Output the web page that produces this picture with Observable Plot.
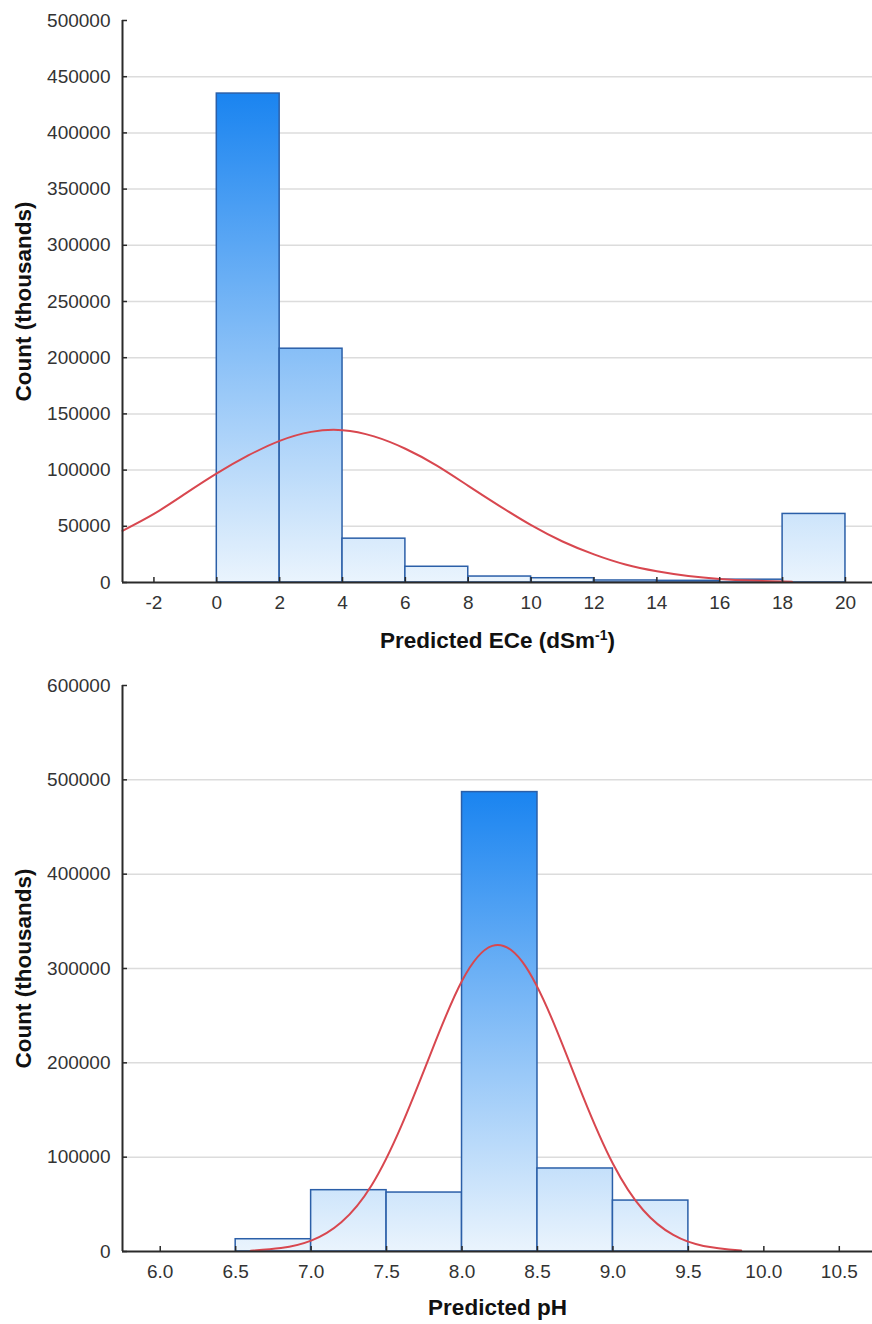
<!DOCTYPE html>
<html><head><meta charset="utf-8">
<script src="https://cdn.jsdelivr.net/npm/d3@7"></script>
<script src="https://cdn.jsdelivr.net/npm/@observablehq/plot@0.6"></script>
<style>
body{margin:0;background:#fff;overflow:hidden}
#wrap{width:872px}
svg{display:block}
</style></head><body><div id="wrap"></div>
<script>
// ---- Top panel: Predicted ECe ----
const eceBinStart = [0, 2, 4, 6, 8, 10, 12, 14, 16, 18];
const eceBinEnd   = [2, 4, 6, 8, 10, 12, 14, 16, 18, 20];
const eceCounts   = [435000, 208000, 39000, 14000, 5300, 3800, 1800, 1500, 2500, 61000];
const eceCurveX   = [-3, -2, -1, 0, 1, 2, 3, 4, 5, 6, 7, 8, 9, 10, 11, 12, 13, 14, 15, 16, 17, 18, 18.3];
const eceCurveY   = [46000, 61000, 79000, 97000, 113000, 126000, 134000, 135500, 130000, 119000, 104000, 86000, 68000, 51000, 36500, 25000, 16000, 10000, 5800, 3200, 1700, 900, 700];
const eceXTicks   = [-2, 0, 2, 4, 6, 8, 10, 12, 14, 16, 18, 20];
const eceYTicks   = [0, 50000, 100000, 150000, 200000, 250000, 300000, 350000, 400000, 450000, 500000];
const eceXLabel   = "Predicted ECe (dSm-1)";

// ---- Bottom panel: Predicted pH ----
const phBinStart = [6.5, 7.0, 7.5, 8.0, 8.5, 9.0];
const phBinEnd   = [7.0, 7.5, 8.0, 8.5, 9.0, 9.5];
const phCounts   = [13000, 65000, 62500, 487000, 88000, 54000];
const phCurveX   = [6.6, 6.8, 7.0, 7.2, 7.4, 7.6, 7.8, 8.0, 8.2, 8.4, 8.6, 8.8, 9.0, 9.2, 9.4, 9.6, 9.85];
const phCurveY   = [900, 3600, 11500, 31000, 70000, 134000, 213000, 287000, 324000, 307000, 245000, 165000, 93000, 44000, 17500, 5900, 1000];
const phXTicks   = [6.0, 6.5, 7.0, 7.5, 8.0, 8.5, 9.0, 9.5, 10.0, 10.5];
const phYTicks   = [0, 100000, 200000, 300000, 400000, 500000, 600000];
const phXLabel   = "Predicted pH";

const yLabel = "Count (thousands)";

function histogram(o) {
  const bins = o.starts.map((s, i) => ({x1: s, x2: o.ends[i], count: o.counts[i]}));
  const curve = o.cx.map((x, i) => ({x, y: o.cy[i]}));
  const grid = o.yTicks.slice(1, -1);
  const chart = Plot.plot({
    width: 872, height: o.height,
    marginLeft: 122, marginRight: 0, marginTop: o.marginTop, marginBottom: o.marginBottom,
    style: {fontFamily: "'Liberation Sans', Arial, sans-serif", fontSize: "19px", color: "#333", background: "#fff", overflow: "visible"},
    x: {domain: o.xDomain, label: null},
    y: {domain: o.yDomain, label: null},
    marks: [
      Plot.gridY(grid, {stroke: "#dcdcdc", strokeOpacity: 1, strokeWidth: 1.5}),
      Plot.rectY(bins, {x1: "x1", x2: "x2", y: "count", fill: `url(#${o.gradId})`, stroke: "#2b5fa8", strokeWidth: 1.5}),
      Plot.line(curve, {x: "x", y: "y", stroke: "#d8474f", strokeWidth: 2, curve: "natural"}),
      Plot.ruleX([o.xDomain[0]], {stroke: "#2a2a2a", strokeWidth: 2}),
      Plot.ruleY([0], {stroke: "#2a2a2a", strokeWidth: 2}),
      Plot.axisY(o.yTicks, {tickSize: 0, tickPadding: 12, tickFormat: d => String(d), fill: "#333", stroke: "#333", strokeWidth: 0.35, fontSize: 19}),
      Plot.axisY(o.yTicks, {tickSize: 5, dx: 5, text: null, stroke: "#2a2a2a", strokeWidth: 1.5}),
      Plot.axisX(o.xTicks, {tickSize: 0, tickPadding: 13, tickFormat: o.xFormat, fill: "#333", stroke: "#333", strokeWidth: 0.35, fontSize: 19}),
      Plot.axisX(o.xTicks, {tickSize: 5, dy: -5, text: null, stroke: "#2a2a2a", strokeWidth: 1.5}),
      Plot.text([o.xLabel], {frameAnchor: "bottom", dy: o.labelDy, textAnchor: "middle", lineAnchor: "middle", fontWeight: "bold", fontSize: 22.5, fill: "#111"}),
      Plot.text([yLabel], {frameAnchor: "left", dx: -99, rotate: -90, textAnchor: "middle", lineAnchor: "middle", fontWeight: "bold", fontSize: 22.5, fill: "#111"})
    ]
  });
  const ys = chart.scale("y");
  const svg = d3.select(chart);
  const defs = svg.insert("defs", ":first-child");
  const g = defs.append("linearGradient").attr("id", o.gradId)
    .attr("gradientUnits", "userSpaceOnUse")
    .attr("x1", 0).attr("x2", 0)
    .attr("y1", ys.apply(d3.max(o.counts))).attr("y2", ys.apply(0));
  g.append("stop").attr("offset", 0).attr("stop-color", "#1a84f0");
  g.append("stop").attr("offset", 1).attr("stop-color", "#eaf4fd");
  // superscript handling
  svg.selectAll("text").each(function() {
    const t = d3.select(this);
    if (t.text() === "Predicted ECe (dSm-1)") {
      t.text("");
      t.append("tspan").text("Predicted ECe (dSm");
      t.append("tspan").attr("dy", "-8").attr("font-size", "14").text("-1");
      t.append("tspan").attr("dy", "8").text(")");
    }
  });
  return chart;
}

const wrap = document.getElementById("wrap");
wrap.appendChild(histogram({
  starts: eceBinStart, ends: eceBinEnd, counts: eceCounts, cx: eceCurveX, cy: eceCurveY,
  xDomain: [-3, 20.86], yDomain: [0, 500000], yTicks: eceYTicks, xTicks: eceXTicks,
  xFormat: d => String(d), height: 660, marginTop: 20, marginBottom: 78,
  xLabel: eceXLabel, gradId: "gradEce", labelDy: 58
}));
wrap.appendChild(histogram({
  starts: phBinStart, ends: phBinEnd, counts: phCounts, cx: phCurveX, cy: phCurveY,
  xDomain: [5.75, 10.72], yDomain: [0, 600000], yTicks: phYTicks, xTicks: phXTicks,
  xFormat: d3.format(".1f"), height: 664, marginTop: 25, marginBottom: 73,
  xLabel: phXLabel, gradId: "gradPh", labelDy: 56
}));
</script>
</body></html>
